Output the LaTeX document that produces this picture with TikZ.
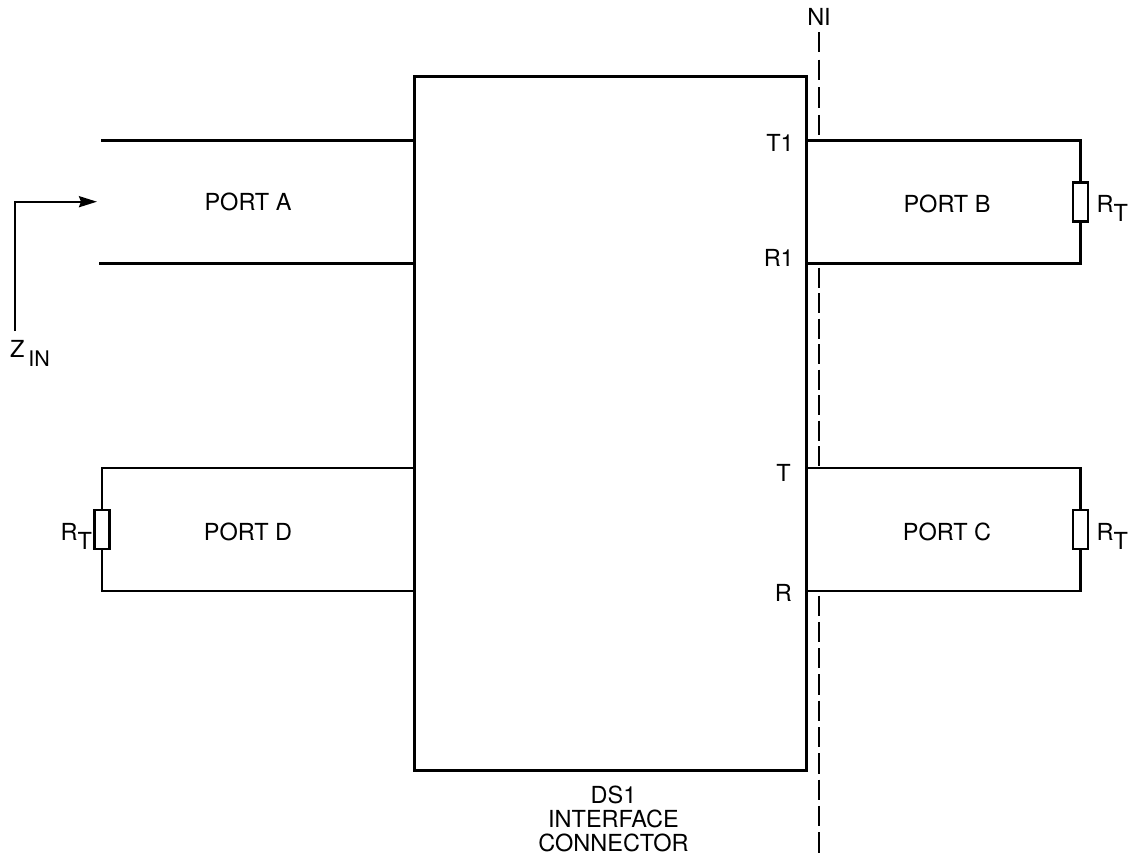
\documentclass[tikz,border=0pt]{standalone}
\usepackage{fontspec}
\setmainfont{TeX Gyre Heros}
\usetikzlibrary{arrows.meta}
\newcommand{\lowsub}[1]{\raisebox{-9pt}{#1}}
\begin{document}
\begin{tikzpicture}[x=1pt,y=-1pt,
  wire/.style={line width=2.2pt,line join=miter},
  ni line/.style={line width=2.2pt,dash pattern=on 20.3pt off #1pt},
  resistor/.style={draw,line width=2.2pt,fill=white,minimum width=15pt,minimum height=39pt,inner sep=0pt},
  label/.style={font=\fontsize{23.5}{24}\selectfont,inner sep=0pt,align=center}]
\useasboundingbox (0,0) rectangle (1135,857);
\node[draw,line width=2.5pt,minimum width=392pt,minimum height=694pt,inner sep=0pt] (box) at (610.7,423.5) {};
% left side
\coordinate (a1) at (415,140.5);
\coordinate (a2) at (415,263.5);
\coordinate (d1) at (415,467.8);
\coordinate (d2) at (415,591.3);
\coordinate (a1end) at (101,140.5);
\coordinate (a2end) at (99,263.5);
\node[resistor] (rd) at (102,529.5) {};
\draw[wire] (a1) -- (a1end);
\draw[wire] (a2) -- (a2end);
\draw[wire] (d1) -| (rd.north);
\draw[wire] (d2) -| (rd.south);
% right side
\coordinate (t1) at (807,140.5);
\coordinate (r1) at (807,263.5);
\coordinate (t) at (807,467.8);
\coordinate (r) at (807,591.3);
\node[resistor] (rb) at (1080.5,202) {};
\node[resistor] (rc) at (1080.5,529.5) {};
\draw[wire] (t1) -| (rb.north);
\draw[wire] (r1) -| (rb.south);
\draw[wire] (t) -| (rc.north);
\draw[wire] (r) -| (rc.south);
% NI boundary
\node[label] (ni) at (819,17) {NI};
\coordinate (n0) at (819,32);
\coordinate (n1) at (819,137);
\coordinate (n2) at (819,267.5);
\coordinate (n3) at (819,466);
\coordinate (n4) at (819,595.5);
\coordinate (n5) at (819,854);
\draw[ni line=7.3] (n0) -- (n1);
\draw[ni line=5.2] (n2) -- (n3);
\draw[ni line=6] (n4) -- (n5);
% input impedance
\coordinate (z0) at (15,331);
\coordinate (z1) at (15,201.7);
\coordinate (z2) at (97,201.7);
\draw[wire,-{Stealth[length=18pt,width=11pt,inset=2pt]}] (z0) -- (z1) -- (z2);
\node[label,anchor=base west] (zin) at (10,357) {Z\,\lowsub{\fontsize{21.5}{22}\selectfont IN}};
% labels
\node[label] (pa) at (248,202) {PORT A};
\node[label] (pb) at (947,203.5) {PORT B};
\node[label] (pc) at (947,532) {PORT C};
\node[label] (pd) at (248,532) {PORT D};
\node[label,anchor=east] (lt1) at (794,142.5) {T1};
\node[label,anchor=east] (lr1) at (794,258) {R1};
\node[label,anchor=east] (lt) at (791,473) {T};
\node[label,anchor=east] (lr) at (792,593) {R};
\node[label,anchor=base west] (lrb) at (1096.5,212) {R\lowsub{T}};
\node[label,anchor=base west] (lrc) at (1096.5,540) {R\lowsub{T}};
\node[label,anchor=base west] (lrd) at (60.5,540) {R\lowsub{T}};
\node[label] (ds1) at (613.5,818.5) {DS1\\INTERFACE\\CONNECTOR};
\end{tikzpicture}
\end{document}
